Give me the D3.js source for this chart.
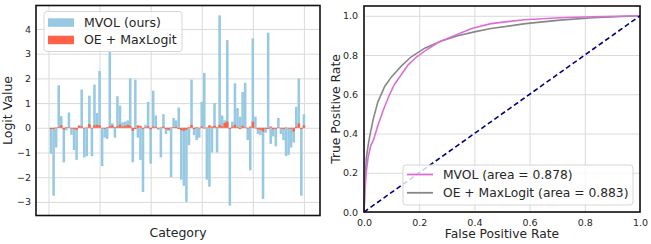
<!DOCTYPE html>
<html>
<head>
<meta charset="utf-8">
<script src="https://cdn.jsdelivr.net/npm/d3@7"></script>
<style>
    body { margin: 0; background: #fff; }
    text { font-family: "DejaVu Sans", sans-serif; fill: #262626; }
</style>
</head>
<body>
<svg id="vis" width="651" height="244"></svg>
<script>
// per-category logits, categories 1..100
var mvolLogits = [
    -1.05, -2.75, -0.8, 1.72, 0.47, -1.4, -0.1, 0.62, -0.28, -0.9,
    -1.3, 0.1, 1.55, -1.2, -1.15, 1.3, -1.15, 1.75, 0.6, 2.3,
    -1.55, -0.4, -0.45, 3.1, 0.18, -0.4, 1.28, 0.9, 0.22, 0.25,
    0.3, 2.0, -1.4, 1.95, -0.4, -1.3, -2.6, 0.12, 1.05, -1.45,
    1.5, 0.5, -0.08, -1.2, 0.55, -0.25, -0.12, -2.0, 0.4, 0.3,
    0.82, -2.1, -2.35, -3.0, -0.7, 1.95, -0.3, -0.5, -0.4, 1.05,
    2.22, -2.1, -2.38, -1.0, 1.0, -1.0, 4.55, 0.5, 0.3, 3.55,
    -3.15, 0.25, 1.8, 0.8, 0.45, 1.45, 1.82, -0.5, -1.72, 3.62,
    0.45, -0.25, -0.3, -2.88, -0.2, 3.85, -0.65, -0.35, -0.75, 0.4,
    -0.25, -0.5, -1.15, -1.1, -0.8, -0.6, 0.85, 2.0, -2.75, 0.55
];
var oeLogits = [
    -0.05, -0.05, 0.02, 0.03, 0.1, -0.07, 0.03, 0.02, -0.03, -0.05,
    -0.08, 0.08, 0.06, -0.03, 0.02, 0.15, -0.03, 0.1, 0.12, 0.1,
    -0.02, -0.04, 0.03, 0.06, 0.1, 0.03, 0.06, 0.13, 0.05, 0.08,
    0.12, 0.08, -0.12, -0.05, 0.1, 0.08, -0.04, 0.03, 0.06, -0.06,
    0.05, 0.04, -0.03, 0.02, 0.05, -0.05, -0.08, 0.02, 0.03, 0.04,
    -0.05, -0.1, -0.12, -0.08, 0.03, 0.12, -0.05, 0.03, -0.02, 0.05,
    -0.03, 0.02, 0.1, 0.05, 0.08, 0.03, 0.12, 0.06, 0.2, 0.25,
    -0.05, 0.05, 0.12, 0.03, -0.05, 0.08, 0.02, -0.03, 0.05, 0.25,
    -0.02, -0.06, -0.08, -0.15, -0.04, -0.05, 0.05, -0.06, -0.04, 0.02,
    -0.03, -0.05, 0.02, -0.03, -0.04, -0.15, 0.05, 0.18, -0.05, 0.1
];
var categories = d3.range(1, 101);
var logitTicks = [-3, -2, -1, 0, 1, 2, 3, 4];
var categoryTicks = [0, 20, 40, 60, 80, 100];

// ROC curves
var mvolFpr = [0, 0.003, 0.008, 0.015, 0.025, 0.035, 0.05, 0.07, 0.09, 0.11, 0.135, 0.16, 0.19, 0.22, 0.27, 0.32, 0.39, 0.46, 0.58, 0.71, 0.83, 1.0];
var mvolTpr = [0, 0.1, 0.2, 0.28, 0.34, 0.37, 0.44, 0.52, 0.59, 0.65, 0.70, 0.75, 0.79, 0.82, 0.865, 0.895, 0.935, 0.96, 0.98, 0.99, 0.995, 1.0];
var oeFpr = [0, 0.003, 0.008, 0.015, 0.02, 0.033, 0.05, 0.075, 0.1, 0.136, 0.17, 0.22, 0.28, 0.34, 0.40, 0.46, 0.585, 0.71, 0.83, 1.0];
var oeTpr = [0, 0.12, 0.27, 0.34, 0.38, 0.47, 0.56, 0.64, 0.69, 0.745, 0.79, 0.835, 0.872, 0.898, 0.918, 0.935, 0.96, 0.978, 0.99, 1.0];
var rocTicks = [0, 0.2, 0.4, 0.6, 0.8, 1.0];
var rocLabels = ["MVOL (area = 0.878)", "OE + MaxLogit (area = 0.883)"];
var barLabels = ["MVOL (ours)", "OE + MaxLogit"];

var svg = d3.select("#vis");
var gridColor = "#dadada";

function styleGrid(g) {
    g.select(".domain").remove();
    g.selectAll("line").attr("stroke", gridColor).attr("stroke-width", 1);
}

// ---------- left: logit bars ----------
var left = {x0: 36, x1: 320, y0: 5.5, y1: 215.5};

var xScale = d3.scaleLinear().domain([-4.89, 106.3]).range([left.x0, left.x1]);
var yScale = d3.scaleLinear().domain([-3.55, 4.95]).range([left.y1, left.y0]);

svg.append("g")
    .attr("transform", "translate(" + left.x0 + ",0)")
    .call(d3.axisLeft(yScale).tickValues(logitTicks).tickSize(-(left.x1 - left.x0)).tickFormat(""))
    .call(styleGrid);
svg.append("g")
    .attr("transform", "translate(0," + left.y1 + ")")
    .call(d3.axisBottom(xScale).tickValues(categoryTicks).tickSize(-(left.y1 - left.y0)).tickFormat(""))
    .call(styleGrid);

var bw = xScale(1) - xScale(0);

svg.append("g").selectAll("rect")
    .data(categories)
    .enter().append("rect")
    .attr("x", function (d) { return xScale(d) - bw / 2; })
    .attr("width", bw)
    .attr("y", function (d, i) { return yScale(Math.max(0, mvolLogits[i])); })
    .attr("height", function (d, i) { return Math.abs(yScale(mvolLogits[i]) - yScale(0)); })
    .attr("fill", "#98c9e2");

svg.append("g").selectAll("rect")
    .data(categories)
    .enter().append("rect")
    .attr("x", function (d) { return xScale(d) - bw / 2; })
    .attr("width", bw)
    .attr("y", function (d, i) { return yScale(Math.max(0, oeLogits[i])); })
    .attr("height", function (d, i) { return Math.abs(yScale(oeLogits[i]) - yScale(0)); })
    .attr("fill", "#ff6347");

svg.append("g")
    .attr("transform", "translate(" + left.x0 + ",0)")
    .call(d3.axisLeft(yScale).tickValues(logitTicks).tickSize(0).tickPadding(5))
    .call(function (g) { g.select(".domain").remove(); })
    .selectAll("text").style("font-size", "9.5px").attr("fill", "#262626");

svg.append("rect")
    .attr("x", left.x0).attr("y", left.y0)
    .attr("width", left.x1 - left.x0).attr("height", left.y1 - left.y0)
    .attr("fill", "none").attr("stroke", "#111").attr("stroke-width", 1.6);

svg.append("text")
    .attr("transform", "translate(12," + (left.y0 + left.y1) / 2 + ") rotate(-90)")
    .style("text-anchor", "middle").style("font-size", "12.5px")
    .text("Logit Value");
svg.append("text")
    .attr("x", (left.x0 + left.x1) / 2).attr("y", 237)
    .style("text-anchor", "middle").style("font-size", "12.5px")
    .text("Category");

var legL = svg.append("g");
legL.append("rect")
    .attr("x", 44).attr("y", 11.5).attr("width", 138).attr("height", 40).attr("rx", 3)
    .attr("fill", "#fff").attr("fill-opacity", 0.8).attr("stroke", "#d6d6d6");
legL.selectAll(".patch")
    .data(barLabels)
    .enter().append("rect")
    .attr("class", "patch")
    .attr("x", 48).attr("y", function (d, i) { return 18.3 + i * 17.4; })
    .attr("width", 26).attr("height", 8.5)
    .attr("fill", function (d, i) { return i === 0 ? "#98c9e2" : "#ff6347"; });
legL.selectAll(".lab")
    .data(barLabels)
    .enter().append("text")
    .attr("class", "lab")
    .attr("x", 84).attr("y", function (d, i) { return 26.5 + i * 17.4; })
    .style("font-size", "12.5px")
    .text(function (d) { return d; });

// ---------- right: ROC ----------
var right = {x0: 364, x1: 640, y0: 6, y1: 212};

var fprScale = d3.scaleLinear().domain([0, 1]).range([right.x0, right.x1]);
var tprScale = d3.scaleLinear().domain([0, 1.05]).range([right.y1, right.y0]);

svg.append("g")
    .attr("transform", "translate(" + right.x0 + ",0)")
    .call(d3.axisLeft(tprScale).tickValues(rocTicks).tickSize(-(right.x1 - right.x0)).tickFormat(""))
    .call(styleGrid);
svg.append("g")
    .attr("transform", "translate(0," + right.y1 + ")")
    .call(d3.axisBottom(fprScale).tickValues(rocTicks).tickSize(-(right.y1 - right.y0)).tickFormat(""))
    .call(styleGrid);

var line = d3.line()
    .x(function (d) { return fprScale(d[0]); })
    .y(function (d) { return tprScale(d[1]); });

svg.append("path")
    .datum(d3.zip(oeFpr, oeTpr))
    .attr("d", line)
    .attr("fill", "none").attr("stroke", "#888888").attr("stroke-width", 1.6);
svg.append("path")
    .datum(d3.zip(mvolFpr, mvolTpr))
    .attr("d", line)
    .attr("fill", "none").attr("stroke", "#da70d6").attr("stroke-width", 1.6);
svg.append("path")
    .datum([[0, 0], [1, 1]])
    .attr("d", line)
    .attr("fill", "none").attr("stroke", "#000080").attr("stroke-width", 1.6)
    .attr("stroke-dasharray", "5,3");

svg.append("g")
    .attr("transform", "translate(" + right.x0 + ",0)")
    .call(d3.axisLeft(tprScale).tickValues(rocTicks).tickSize(0).tickPadding(6).tickFormat(d3.format(".1f")))
    .call(function (g) { g.select(".domain").remove(); })
    .selectAll("text").style("font-size", "9.5px").attr("fill", "#262626");
svg.append("g")
    .attr("transform", "translate(0," + right.y1 + ")")
    .call(d3.axisBottom(fprScale).tickValues(rocTicks).tickSize(0).tickPadding(7).tickFormat(d3.format(".1f")))
    .call(function (g) { g.select(".domain").remove(); })
    .selectAll("text").style("font-size", "9.5px").attr("fill", "#262626");

svg.append("rect")
    .attr("x", right.x0).attr("y", right.y0)
    .attr("width", right.x1 - right.x0).attr("height", right.y1 - right.y0)
    .attr("fill", "none").attr("stroke", "#111").attr("stroke-width", 1.6);

svg.append("text")
    .attr("transform", "translate(340," + (right.y0 + right.y1) / 2 + ") rotate(-90)")
    .style("text-anchor", "middle").style("font-size", "12.3px")
    .text("True Positive Rate");
svg.append("text")
    .attr("x", (right.x0 + right.x1) / 2).attr("y", 238)
    .style("text-anchor", "middle").style("font-size", "12.3px")
    .text("False Positive Rate");

var legR = svg.append("g");
legR.append("rect")
    .attr("x", 403).attr("y", 165).attr("width", 230).attr("height", 40).attr("rx", 3)
    .attr("fill", "#fff").attr("fill-opacity", 0.8).attr("stroke", "#d6d6d6");
legR.selectAll("line")
    .data(rocLabels)
    .enter().append("line")
    .attr("x1", 407).attr("x2", 433)
    .attr("y1", function (d, i) { return 174.5 + i * 18.3; })
    .attr("y2", function (d, i) { return 174.5 + i * 18.3; })
    .attr("stroke", function (d, i) { return i === 0 ? "#da70d6" : "#888888"; })
    .attr("stroke-width", 1.8);
legR.selectAll("text")
    .data(rocLabels)
    .enter().append("text")
    .attr("x", 443).attr("y", function (d, i) { return 179 + i * 18.3; })
    .style("font-size", "12.3px")
    .text(function (d) { return d; });
</script>
</body>
</html>
